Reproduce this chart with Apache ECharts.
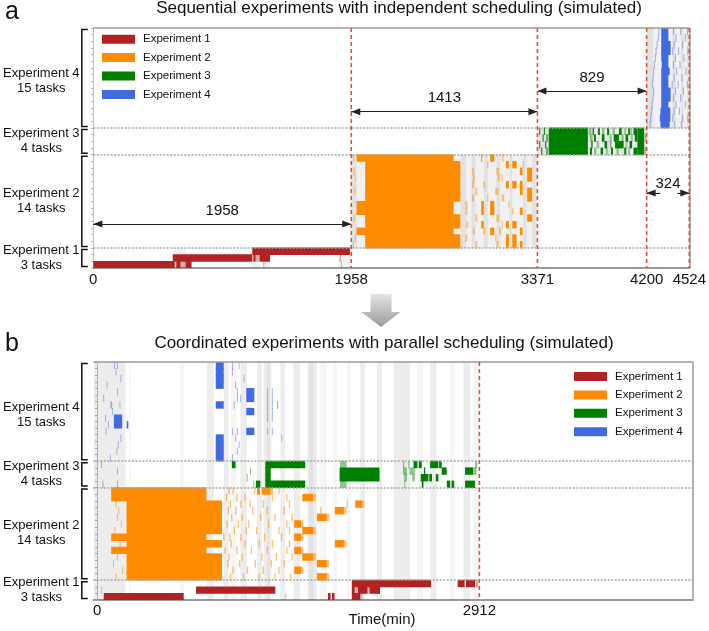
<!DOCTYPE html>
<html><head><meta charset="utf-8">
<script src="https://cdn.jsdelivr.net/npm/echarts@6/dist/echarts.min.js"></script>
<style>html,body{margin:0;padding:0;background:#fff}#c{width:709px;height:631px}</style>
</head><body><div id="c"></div>
<script>
// ---------- DATA ----------
const EXP_NAMES = ['Experiment 1', 'Experiment 2', 'Experiment 3', 'Experiment 4'];
const Y_LABELS = ['Experiment 1\n3 tasks', 'Experiment 2\n14 tasks', 'Experiment 3\n4 tasks', 'Experiment 4\n15 tasks'];
const Y_LABEL_POS = [1.5, 10.1, 19.1, 28];
const GROUP_BOUNDS = [[0, 3], [3, 17], [17, 21], [21, 36]];
const ROW_OFFSETS = [0, 3, 17, 21];
const SEP_ROWS = [3, 17, 21];
const A_TICKS = [0, 1958, 3371, 4200, 4524];
const B_TICKS = [0, 2912];
const A_MARKS = [1958, 3371, 4200, 4524];
const B_MARKS = [2912];
// spans annotated with arrows in panel a: [start, end, row level]
const A_SPANS = [[0, 1958, 6.6], [1958, 3371, 23.45], [3371, 4200, 26.55]];
const A_SPAN_SHORT = [4200, 4524, 11.25];

// bars: [task, start, end]  (task 1 = bottom row of the experiment)
const A_E1 = [[1,0,618],[1,630,662],[1,700,746],[2,603,1207],[2,1215,1232],[2,1262,1342],[3,1207,1948]];
const A_E1F = [[1,662,700],[2,1232,1262],[3,1870,1885],[3,1905,1915],[1,1290,1296],[2,1870,1880],[1,1880,1886]];
const A_E2 = [
 [14,1998,2735],[14,3012,3044],[14,2944,2952],
 [13,2064,2786],[13,3132,3154],[13,3180,3213],
 [12,2064,2786],[12,3238,3258],[12,3293,3331],
 [11,2064,2786],[11,3293,3331],
 [10,2064,2786],[10,3132,3154],[10,3180,3213],[10,3238,3258],
 [9,2064,2786],[9,3238,3258],[9,3293,3331],
 [8,2064,2786],[8,3293,3331],
 [7,1998,2735],[7,2944,2964],[7,3012,3044],
 [6,1998,2735],[6,2944,2964],[6,3012,3044],[6,3238,3258],
 [5,2064,2786],[5,3293,3331],
 [4,2064,2786],[4,3132,3154],[4,3180,3213],[4,2944,2964],
 [3,1998,2735],[3,3012,3044],[3,3238,3258],
 [2,2064,2786],[2,3132,3154],[2,3180,3213],
 [1,2064,2786],[1,3132,3154],[1,3180,3213],[1,3238,3258]];
const A_E2F = [
 [14,1970,1980],[12,1975,1985],[11,1985,1992],[9,1980,1990],[5,1975,1985],[2,1985,1995],[1,1970,1978],
 [12,2874,2890],[11,2880,2895],[10,2874,2890],[9,2900,2915],[8,2874,2890],[6,2823,2840],[7,2823,2840],
 [5,2900,2915],[4,2830,2845],[3,2880,2895],[2,2823,2840],[1,2900,2915],
 [13,2990,3000],[12,3060,3080],[11,3070,3085],[11,3100,3110],[9,3050,3075],[8,3100,3120],[5,3060,3080],
 [4,3100,3110],[3,3080,3095],[2,3050,3060],[14,3100,3115],[13,3260,3270],[7,3150,3160],[6,3180,3190],
 [1,3060,3075],[10,2960,2975],[8,2990,3000],[3,2960,2975]];
const A_E3 = [
 [4,3457,3754],[3,3457,3754],[2,3457,3754],[1,3457,3754],
 [4,4130,4181],[3,4130,4181],[2,4130,4181],[1,4130,4181],
 [4,3790,3800],[4,3830,3845],[4,3900,3915],[4,3990,4010],[4,4060,4075],[4,4100,4130],
 [3,3800,3815],[3,3860,3880],[3,3950,3990],[3,4040,4060],[3,4110,4130],
 [2,3780,3790],[2,3880,3900],[2,3960,4025],[2,4070,4090],
 [1,3770,3785],[1,3850,3870],[1,3930,3945],[1,4030,4045],[1,4100,4130],
 [4,3385,3392],[2,3385,3392],[1,3400,3408],[3,3410,3418],[4,3420,3428],[2,3430,3438],[1,3440,3448],[3,3440,3448]];
const A_E3F = [
 [4,3760,3780],[3,3770,3790],[1,3800,3820],[2,3820,3840],[4,3860,3880],[1,3890,3905],[3,3920,3935],[2,3920,3935],
 [4,3940,3960],[1,3970,3990],[3,4010,4025],[4,4030,4045],[2,4040,4055],[1,4060,4075],[3,4080,4095],[4,4080,4090],
 [1,4185,4195],[3,4185,4195]];
const A_E4 = [
 [15,4311,4365],[14,4311,4365],[13,4311,4382],[12,4311,4382],[11,4311,4365],[10,4315,4365],[9,4311,4375],
 [8,4311,4365],[7,4311,4365],[6,4311,4382],[5,4311,4382],[4,4311,4365],[3,4305,4380],[2,4300,4380],[1,4305,4375]];
const A_E4F = [
 [15,4290,4296],[15,4400,4405],[15,4455,4460],[15,4505,4510],[14,4285,4291],[14,4420,4425],[14,4490,4495],
 [13,4276,4282],[13,4405,4410],[13,4470,4476],[12,4268,4274],[12,4395,4400],[12,4440,4446],[12,4510,4515],
 [11,4262,4268],[11,4415,4420],[11,4480,4486],[10,4255,4261],[10,4400,4406],[10,4450,4456],
 [9,4250,4256],[9,4425,4430],[9,4495,4500],[8,4245,4251],[8,4405,4410],[8,4465,4470],
 [7,4240,4246],[7,4390,4396],[7,4435,4440],[7,4505,4510],[6,4250,4256],[6,4415,4420],[6,4475,4480],
 [5,4245,4251],[5,4400,4405],[5,4455,4460],[4,4238,4244],[4,4420,4425],[4,4490,4496],
 [3,4232,4238],[3,4405,4410],[3,4445,4450],[2,4227,4233],[2,4395,4400],[2,4470,4476],[2,4510,4515],
 [1,4222,4228],[1,4410,4416],[1,4460,4466]];

const B_E1 = [[1,50,659],[1,1758,1778],[1,1789,1808],[1,1940,2004],
 [2,753,1357],[2,1940,1962],[2,1985,2060],[2,2075,2155],
 [3,1940,2544],[3,2747,2800],[3,2810,2879]];
const B_E1F = [[1,1433,1440],[2,1965,1982],[2,2060,2075],[3,2884,2905],[1,2004,2020],[2,30,36]];
const B_E2 = [
 [14,106,832],[13,106,832],[12,223,951],[11,223,951],[10,223,951],[9,223,951],[8,223,951],
 [7,106,832],[6,223,951],[5,106,832],[4,223,951],[3,223,951],[2,223,951],[1,223,951],
 [14,1217,1240],[14,1254,1322],[13,1563,1646],[12,1966,2018],[11,1811,1880],[10,1674,1749],[9,1501,1553],
 [8,1563,1646],[7,1501,1553],[6,1811,1880],[5,1501,1553],[4,1563,1646],[3,1674,1749],[2,1501,1553],[1,1674,1749]];
const B_E2F = [
 [14,1322,1340],[13,1646,1665],[12,2018,2035],[11,1880,1898],[10,1749,1768],[9,1553,1570],[8,1646,1665],
 [7,1553,1570],[6,1880,1898],[5,1553,1570],[4,1646,1665],[3,1749,1768],[2,1553,1570],[1,1749,1768],
 [14,1000,1012],[14,1030,1040],[14,1195,1205],[14,1380,1390],
 [13,980,990],[13,1060,1070],[13,1120,1130],[13,1330,1340],[13,1440,1450],
 [12,140,148],[12,1010,1020],[12,1090,1100],[12,1160,1170],[12,1260,1270],[12,1460,1470],[12,1900,1910],
 [11,160,168],[11,995,1005],[11,1050,1060],[11,1180,1190],[11,1290,1300],[11,1420,1430],[11,1700,1710],
 [10,150,158],[10,1020,1030],[10,1100,1110],[10,1240,1250],[10,1350,1360],[10,1480,1490],
 [9,180,188],[9,985,995],[9,1070,1080],[9,1150,1160],[9,1300,1310],[9,1440,1450],
 [8,130,138],[8,1040,1050],[8,1130,1140],[8,1210,1220],[8,1380,1390],[8,1460,1470],
 [7,960,970],[7,1005,1015],[7,1090,1100],[7,1270,1280],[7,1400,1410],
 [6,170,178],[6,1015,1025],[6,1120,1130],[6,1230,1240],[6,1330,1340],[6,1460,1470],
 [5,970,980],[5,1060,1070],[5,1170,1180],[5,1290,1300],[5,1440,1450],
 [4,150,158],[4,1000,1010],[4,1100,1110],[4,1250,1260],[4,1360,1370],[4,1480,1490],
 [3,120,128],[3,990,1000],[3,1080,1090],[3,1200,1210],[3,1320,1330],[3,1420,1430],
 [2,190,198],[2,1030,1040],[2,1140,1150],[2,1260,1270],[2,1380,1390],
 [1,140,148],[1,1010,1020],[1,1110,1120],[1,1230,1240],[1,1350,1360],[1,1470,1480]];
const B_E3 = [
 [4,1281,1585],[1,1281,1585],[3,1281,1322],[2,1281,1322],[1,1209,1243],[4,1026,1054],
 [3,1847,2151],[2,1847,2151],
 [4,2410,2440],[4,2450,2473],[4,2537,2600],[4,2605,2625],
 [3,2625,2663],[3,2803,2866],[3,2490,2500],
 [2,2465,2524],[2,2530,2551],[2,2580,2600],
 [1,2473,2486],[1,2664,2690],[1,2700,2720],[1,2803,2879]];
const B_E3F = [[4,30,36],[3,150,156],[1,40,46],[1,150,156],[2,1140,1146],[1,1190,1196],[3,1165,1171],
 [4,1850,1900],[1,1850,1900],[4,2330,2340],[3,2330,2360],[2,2340,2360],[1,2340,2346],[3,2380,2420],
 [2,2400,2420],[4,2370,2380],[3,2870,2890],[4,2880,2895]];
const B_E4 = [
 [15,903,964],[14,903,964],[13,903,964],[12,903,964],[9,903,964],[4,903,964],[3,903,964],[2,903,964],[1,903,964],
 [11,1136,1197],[10,1136,1197],[8,1136,1197],[5,1136,1197],
 [7,127,190],[6,127,190],[6,224,237]];
const B_E4F = [
 [15,127,135],[15,150,156],[14,140,146],[13,177,183],[12,71,77],[11,152,158],[10,46,52],[9,101,114],[9,170,176],
 [8,114,120],[7,60,66],[6,81,87],[5,63,69],[4,177,183],[3,157,163],[2,147,153],[1,96,102],
 [15,1027,1033],[15,1078,1084],[14,1027,1033],[13,1116,1122],[12,1050,1056],[11,1065,1071],[10,1065,1071],
 [10,1090,1096],[9,1040,1046],[5,1027,1033],[5,1065,1071],[4,1052,1058],[3,1078,1084],[2,1065,1071],[1,1027,1033],
 [11,1293,1299],[11,1331,1337],[10,1293,1299],[10,1331,1337],[9,1293,1299],[9,1331,1337],[9,1370,1380],
 [8,1293,1299],[8,1331,1337],[7,1293,1299],[7,1331,1337],[5,1293,1299],[5,1331,1337],[4,1403,1409]];

// gray background activity stripes, panel a: [rowLo, rowHi, start, end]
const A_BG_LIGHT = [[0,3,615,700],[0,3,1200,1260],[0,3,1290,1340],[0,3,1860,1958],
 [3,17,1958,3371],[17,21,3371,4200],[21,36,4200,4524]];
const A_BG_DARK = [[3,17,1958,2000],[3,17,2786,2830],[3,17,2870,2900],[3,17,2964,2995],[3,17,3060,3090],
 [3,17,3160,3180],[3,17,3260,3290],[3,17,3331,3365],
 [17,21,3371,3457],[17,21,3760,3790],[17,21,3900,3930],[17,21,4000,4030],[17,21,4181,4200],
 [21,36,4200,4250],[21,36,4395,4420],[21,36,4460,4480],[21,36,4505,4524]];
// panel b stripes span all rows: [start, end]
const B_BG_DARK = [[-25,215],[837,888],[964,1002],[1091,1141],[1217,1255],[1268,1319],[1395,1433],[1496,1547],
 [1611,1674],[2004,2042],[2131,2169],[2258,2385],[2537,2587],[2790,2841]];
const B_BG_LIGHT = [[241,254],[634,659],[1015,1065],[1293,1331],[1598,1649],[1699,1750],[1801,1826],[1902,1928],
 [2435,2486],[2689,2727],[2866,2904]];

// ---------- CHART ----------
const FONT = "'Liberation Sans', Arial, Helvetica, sans-serif";
const COLORS = ['#b22222', '#ff8c00', '#008000', '#4169e1'];
const X_RANGE = [[0, 4524], [-30, 4540]];

function bars(name, data, gi, exp, opacity) {
  const off = ROW_OFFSETS[exp], fill = COLORS[exp];
  return {
    type: 'custom', name: name, xAxisIndex: gi, yAxisIndex: gi, data: data, clip: true, silent: true, z: 3,
    itemStyle: { color: fill },
    renderItem: function (p, api) {
      const r = api.value(0) - 1 + off;
      const a = api.coord([api.value(1), r + 1]), b = api.coord([api.value(2), r]);
      return { type: 'rect', shape: { x: a[0], y: a[1] - 0.4, width: Math.max(b[0] - a[0], 0.9), height: b[1] - a[1] + 0.8 },
        style: { fill: fill, opacity: opacity } };
    }
  };
}
function bg(data, gi, fill) {
  return {
    type: 'custom', name: 'bg', xAxisIndex: gi, yAxisIndex: gi, data: data, clip: true, silent: true, z: 1,
    renderItem: function (p, api) {
      const a = api.coord([api.value(2), api.value(1)]), b = api.coord([api.value(3), api.value(0)]);
      return { type: 'rect', shape: { x: a[0], y: a[1], width: b[0] - a[0], height: b[1] - a[1] }, style: { fill: fill } };
    }
  };
}
function vlines(data, gi) {
  return {
    type: 'custom', name: 'vl', xAxisIndex: gi, yAxisIndex: gi, data: data.map(v => [v]), clip: false, silent: true, z: 12,
    renderItem: function (p, api) {
      const a = api.coord([api.value(0), 36]), b = api.coord([api.value(0), 0]);
      return { type: 'line', shape: { x1: a[0], y1: a[1], x2: a[0], y2: b[1] },
        style: { stroke: '#f04a32', lineWidth: 1.6, lineDash: [4, 3] } };
    }
  };
}
function brackets(gi) {
  return {
    type: 'custom', name: 'br', xAxisIndex: gi, yAxisIndex: gi, data: GROUP_BOUNDS, clip: false, silent: true, z: 5,
    renderItem: function (p, api) {
      const t = api.coord([X_RANGE[gi][0], api.value(1)]), b = api.coord([X_RANGE[gi][0], api.value(0)]);
      const x = t[0] - 11.5, y1 = t[1] + 1.5, y2 = b[1] - 1.5;
      return { type: 'polyline', shape: { points: [[x + 6, y1], [x, y1], [x, y2], [x + 6, y2]] },
        style: { stroke: '#111', lineWidth: 1.5, fill: null } };
    }
  };
}
function carrier(gi, ml) {
  return { type: 'line', name: 'ml', xAxisIndex: gi, yAxisIndex: gi, data: [], silent: true, z: 10,
    markLine: Object.assign({ silent: true, animation: false, symbol: ['none', 'none'], label: { show: false } }, ml) };
}

const series = [];
// panel a
series.push(bg(A_BG_LIGHT, 0, 'rgba(0,0,0,0.055)'));
series.push(bg(A_BG_DARK, 0, 'rgba(0,0,0,0.06)'));
series.push(bars('Experiment 1', A_E1, 0, 0, 1));
series.push(bars('Experiment 2', A_E2, 0, 1, 1));
series.push(bars('Experiment 3', A_E3, 0, 2, 1));
series.push(bars('Experiment 4', A_E4, 0, 3, 1));
series.push(bars('f1', A_E1F, 0, 0, 0.35));
series.push(bars('f2', A_E2F, 0, 1, 0.45));
series.push(bars('f3', A_E3F, 0, 2, 0.4));
series.push(bars('f4', A_E4F, 0, 3, 0.55));
// panel b
series.push(bg(B_BG_LIGHT.map(d => [0, 36, d[0], d[1]]), 1, 'rgba(0,0,0,0.04)'));
series.push(bg(B_BG_DARK.map(d => [0, 36, d[0], d[1]]), 1, 'rgba(0,0,0,0.07)'));
series.push(bars('Experiment 1', B_E1, 1, 0, 1));
series.push(bars('Experiment 2', B_E2, 1, 1, 1));
series.push(bars('Experiment 3', B_E3, 1, 2, 1));
series.push(bars('Experiment 4', B_E4, 1, 3, 1));
series.push(bars('f1', B_E1F, 1, 0, 0.35));
series.push(bars('f2', B_E2F, 1, 1, 0.55));
series.push(bars('f3', B_E3F, 1, 2, 0.45));
series.push(bars('f4', B_E4F, 1, 3, 0.5));
series.push(brackets(0), brackets(1));

[0, 1].forEach(gi => {
  series.push(carrier(gi, { lineStyle: { color: '#a6a6a6', width: 1.6, type: [2, 1.5] }, data: SEP_ROWS.map(v => ({ yAxis: v })) }));
  series.push(carrier(gi, { lineStyle: { color: '#9a9a9a', width: 1.5, type: 'solid' }, data: [{ yAxis: 36 }, { xAxis: X_RANGE[gi][1] }] }));
});
series.push(vlines(A_MARKS, 0), vlines(B_MARKS, 1));
series.push(carrier(0, {
  symbol: ['triangle', 'triangle'], symbolSize: [7, 9], symbolOffset: [[0, 4.5], [0, 4.5]],
  lineStyle: { color: '#222', width: 1.2, type: 'solid' },
  label: { show: true, position: 'middle', fontSize: 15, fontFamily: FONT, color: '#111', backgroundColor: '#fff', padding: [1, 9] },
  data: A_SPANS.map(s => [{ coord: [s[0], s[2]], label: { formatter: String(s[1] - s[0]) } }, { coord: [s[1], s[2]] }])
}));
const sm = (A_SPAN_SHORT[0] + A_SPAN_SHORT[1]) / 2;
series.push(carrier(0, {
  symbolSize: [7, 9], symbolOffset: [[0, 4.5], [0, 4.5]],
  lineStyle: { color: '#222', width: 1.2, type: 'solid' },
  data: [
    [{ coord: [A_SPAN_SHORT[0], A_SPAN_SHORT[2]], symbol: 'triangle' }, { coord: [sm - 58, A_SPAN_SHORT[2]], symbol: 'none' }],
    [{ coord: [sm + 72, A_SPAN_SHORT[2]], symbol: 'none' }, { coord: [A_SPAN_SHORT[1], A_SPAN_SHORT[2]], symbol: 'triangle' }]
  ]
}));
series.push(carrier(0, {
  lineStyle: { color: 'rgba(0,0,0,0)', width: 0 },
  label: { show: true, position: 'insideMiddleTop', distance: 2, fontSize: 15, fontFamily: FONT, color: '#111',
    formatter: String(A_SPAN_SHORT[1] - A_SPAN_SHORT[0]) },
  data: [[{ coord: [A_SPAN_SHORT[0], A_SPAN_SHORT[2]] }, { coord: [A_SPAN_SHORT[1], A_SPAN_SHORT[2]] }]]
}));

function yAxis(gi) {
  return {
    type: 'value', gridIndex: gi, min: 0, max: 36,
    axisLine: { show: true, lineStyle: { color: '#b0b0b0', type: 'dotted', width: 1 } },
    axisTick: { show: true, customValues: Array.from({ length: 37 }, (_, i) => i), length: 2, lineStyle: { color: '#aaa' } },
    splitLine: { show: false },
    axisLabel: {
      customValues: Y_LABEL_POS, align: 'center', margin: 52, fontSize: 13, lineHeight: 15, color: '#111', fontFamily: FONT,
      formatter: v => { const i = Y_LABEL_POS.findIndex(p => Math.abs(p - v) < 0.01); return i >= 0 ? Y_LABELS[i] : ''; }
    }
  };
}
function xAxis(gi, ticks, margin) {
  return {
    type: 'value', gridIndex: gi, min: X_RANGE[gi][0], max: X_RANGE[gi][1],
    axisLine: { show: true, lineStyle: { color: '#9a9a9a', width: 2 } },
    axisTick: { show: false }, splitLine: { show: false },
    axisLabel: { customValues: ticks, fontSize: 15, color: '#111', fontFamily: FONT, margin: margin,
      formatter: v => String(v), showMinLabel: true, showMaxLabel: true, hideOverlap: false }
  };
}
function legend(left, top) {
  return {
    data: EXP_NAMES, orient: 'vertical', left: left, top: top, padding: 0, icon: 'rect',
    itemWidth: 33, itemHeight: 9, itemGap: 6.4, selectedMode: false,
    textStyle: { fontSize: 11.5, lineHeight: 9, color: '#111', fontFamily: FONT, padding: [0, 0, 0, 3] }
  };
}

const chart = echarts.init(document.getElementById('c'), null, { renderer: 'canvas' });
chart.setOption({
  animation: false,
  backgroundColor: '#fff',
  grid: [
    { left: 92, top: 28, width: 600, height: 240 },
    { left: 93, top: 362, width: 600, height: 238 }
  ],
  xAxis: [xAxis(0, A_TICKS, 4), xAxis(1, B_TICKS, 3)],
  yAxis: [yAxis(0), yAxis(1)],
  legend: [legend(102, 33.2), legend(574, 370.5)],
  series: series,
  graphic: [
    { type: 'text', x: 399, y: 8, style: { text: 'Sequential experiments with independent scheduling (simulated)', font: '17px ' + FONT, fill: '#111', align: 'center', verticalAlign: 'middle' } },
    { type: 'text', x: 384, y: 343, style: { text: 'Coordinated experiments with parallel scheduling (simulated)', font: '17px ' + FONT, fill: '#111', align: 'center', verticalAlign: 'middle' } },
    { type: 'text', x: 5, y: 12.5, style: { text: 'a', font: '25px ' + FONT, fill: '#111', align: 'left', verticalAlign: 'middle' } },
    { type: 'text', x: 5, y: 344.5, style: { text: 'b', font: '25px ' + FONT, fill: '#111', align: 'left', verticalAlign: 'middle' } },
    { type: 'text', x: 382, y: 620, style: { text: 'Time(min)', font: '15px ' + FONT, fill: '#111', align: 'center', verticalAlign: 'middle' } },
    { type: 'polygon', shape: { points: [[370.5, 294], [391.5, 294], [391.5, 312], [400.5, 312], [381, 327], [361.5, 312], [370.5, 312]] },
      style: { fill: { type: 'linear', x: 0, y: 0, x2: 0, y2: 1, colorStops: [{ offset: 0, color: '#e4e4e4' }, { offset: 1, color: '#9c9c9c' }] } } }
  ]
});
</script>
</body></html>
